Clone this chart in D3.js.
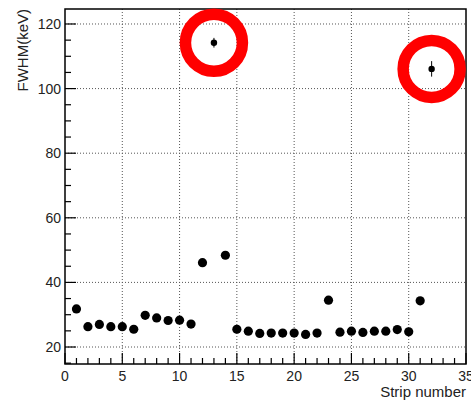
<!DOCTYPE html>
<html><head><meta charset="utf-8">
<script src="https://cdn.jsdelivr.net/npm/d3@7/dist/d3.min.js"></script>
<style>body{margin:0;background:#fff}svg{display:block}text{font-family:"Liberation Sans",Arial,sans-serif;fill:#222}</style>
</head><body><svg id="c" width="471" height="400"></svg>
<script>
const strips = d3.range(1, 33);
const fwhm = [31.8, 26.3, 27.0, 26.3, 26.3, 25.5, 29.8, 29.0, 28.2, 28.3, 27.1, 46.1, 114.2, 48.4, 25.5, 24.9,
              24.2, 24.3, 24.3, 24.3, 23.9, 24.3, 34.5, 24.6, 24.9, 24.5, 24.9, 24.9, 25.4, 24.7, 34.3, 106.1];
const errs = [0.5, 0.5, 0.5, 0.5, 0.5, 0.5, 0.5, 0.5, 0.5, 0.5, 0.5, 0.6, 1.5, 0.6, 0.5, 0.5,
              0.5, 0.5, 0.5, 0.5, 0.5, 0.5, 0.6, 0.5, 0.5, 0.5, 0.5, 0.5, 0.5, 0.5, 0.6, 2.4];
const circled = [13, 32];
const xTicks = [0, 5, 10, 15, 20, 25, 30, 35];
const yTicks = [20, 40, 60, 80, 100, 120];
const xTitle = "Strip number";
const yTitle = "FWHM(keV)";

const svg = d3.select("#c");
const L = 65, R = 466, T = 9, B = 364;
const x = d3.scaleLinear().domain([0, 35]).range([L, R]);
const y = d3.scaleLinear().domain([14.74, 124.64]).range([B, T]);

// grid
const g = svg.append("g");
g.selectAll(".gx").data(xTicks.filter(v => v > 0 && v < 35)).join("line")
  .attr("x1", d => x(d)).attr("x2", d => x(d)).attr("y1", T).attr("y2", B)
  .attr("stroke", "#555").attr("stroke-width", 1).attr("stroke-dasharray", "1,2");
g.selectAll(".gy").data(yTicks).join("line")
  .attr("y1", d => y(d)).attr("y2", d => y(d)).attr("x1", L).attr("x2", R)
  .attr("stroke", "#555").attr("stroke-width", 1).attr("stroke-dasharray", "1,2");

// frame
svg.append("rect").attr("x", L).attr("y", T).attr("width", R - L).attr("height", B - T)
  .attr("fill", "none").attr("stroke", "#000").attr("stroke-width", 1.5);

// x axis ticks (inside, pointing up)
const xMinor = d3.range(0, 36, 1);
svg.append("g").selectAll("line").data(xMinor).join("line")
  .attr("x1", d => x(d)).attr("x2", d => x(d)).attr("y1", B)
  .attr("y2", d => B - (d % 5 === 0 ? 11 : 6)).attr("stroke", "#000").attr("stroke-width", 1.2);
svg.append("g").selectAll("text").data(xTicks).join("text")
  .attr("x", d => x(d)).attr("y", 381).attr("text-anchor", "middle")
  .attr("font-size", 14).text(d => d);

// y axis ticks (inside, pointing right)
const yMinor = d3.range(15, 125, 5);
svg.append("g").selectAll("line").data(yMinor).join("line")
  .attr("y1", d => y(d)).attr("y2", d => y(d)).attr("x1", L)
  .attr("x2", d => L + (d % 20 === 0 ? 11 : 6)).attr("stroke", "#000").attr("stroke-width", 1.2);
svg.append("g").selectAll("text").data(yTicks).join("text")
  .attr("x", 61).attr("y", d => y(d) + 5).attr("text-anchor", "end")
  .attr("font-size", 14).text(d => d);

// titles
svg.append("text").attr("x", R).attr("y", 397).attr("text-anchor", "end")
  .attr("font-size", 15).text(xTitle);
svg.append("text").attr("transform", `translate(28,${T}) rotate(-90)`)
  .attr("text-anchor", "end").attr("font-size", 15).text(yTitle);

// points
const pts = strips.map((s, i) => ({s, v: fwhm[i], e: errs[i], c: circled.includes(s)}));
const pg = svg.append("g");
pg.selectAll("line").data(pts).join("line")
  .attr("x1", d => x(d.s)).attr("x2", d => x(d.s))
  .attr("y1", d => y(d.v - d.e)).attr("y2", d => y(d.v + d.e))
  .attr("stroke", "#000").attr("stroke-width", 1);
pg.selectAll("circle").data(pts).join("circle")
  .attr("cx", d => x(d.s)).attr("cy", d => y(d.v)).attr("r", d => d.c ? 3.2 : 4.6)
  .attr("fill", "#000");

// red highlight rings
svg.append("g").selectAll("circle").data(pts.filter(d => d.c)).join("circle")
  .attr("cx", d => x(d.s)).attr("cy", d => y(d.v)).attr("r", 28.5)
  .attr("fill", "none").attr("stroke", "#ff0000").attr("stroke-width", 11.5);
</script></body></html>
